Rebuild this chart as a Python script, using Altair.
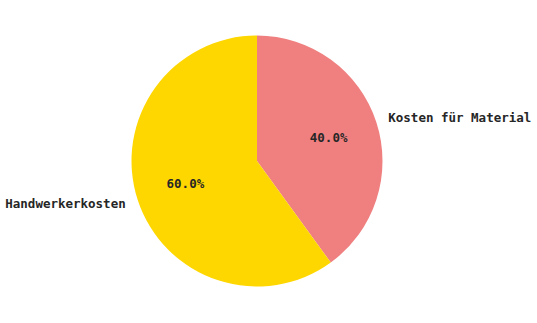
import altair as alt
import pandas as pd

categories = ["Kosten für Material", "Handwerkerkosten"]
shares = [40.0, 60.0]
pct_labels = ["40.0%", "60.0%"]
colors = ["#F08080", "#FFD700"]
order_idx = [0, 1]
aligns = ["left", "right"]

df = pd.DataFrame({
    "cat": categories,
    "share": shares,
    "pct": pct_labels,
    "ord": order_idx,
    "al": aligns,
})

CX, CY, R = 257, 161, 125.5
FONT = "DejaVu Sans Mono"

base = alt.Chart(df).encode(
    theta=alt.Theta("share:Q", stack=True),
    order=alt.Order("ord:Q"),
    x=alt.value(CX),
    y=alt.value(CY),
)

pie = base.mark_arc(outerRadius=R, strokeWidth=0).encode(
    color=alt.Color("cat:N", scale=alt.Scale(domain=categories, range=colors), legend=None)
)

pct = base.mark_text(radius=R * 0.6, font=FONT, fontSize=12.5, fontWeight="bold",
                     color="#262626", align="center", baseline="middle").encode(
    text="pct:N"
)

lab_left = base.mark_text(radius=R * 1.1, font=FONT, fontSize=12.5, fontWeight="bold",
                          color="#262626", align="left", baseline="middle").encode(
    text="cat:N",
    opacity=alt.condition(alt.datum.al == "left", alt.value(1), alt.value(0)),
)
lab_right = base.mark_text(radius=R * 1.1, font=FONT, fontSize=12.5, fontWeight="bold",
                           color="#262626", align="right", baseline="middle").encode(
    text="cat:N",
    opacity=alt.condition(alt.datum.al == "right", alt.value(1), alt.value(0)),
)

chart = alt.layer(pie, pct, lab_left, lab_right).properties(
    width=537, height=323,
    autosize=alt.AutoSizeParams(type="none"),
    padding=0,
    background="white",
).configure_view(stroke="transparent", strokeWidth=0)

chart.save("out.html", embed_options={"renderer": "svg", "actions": False})
